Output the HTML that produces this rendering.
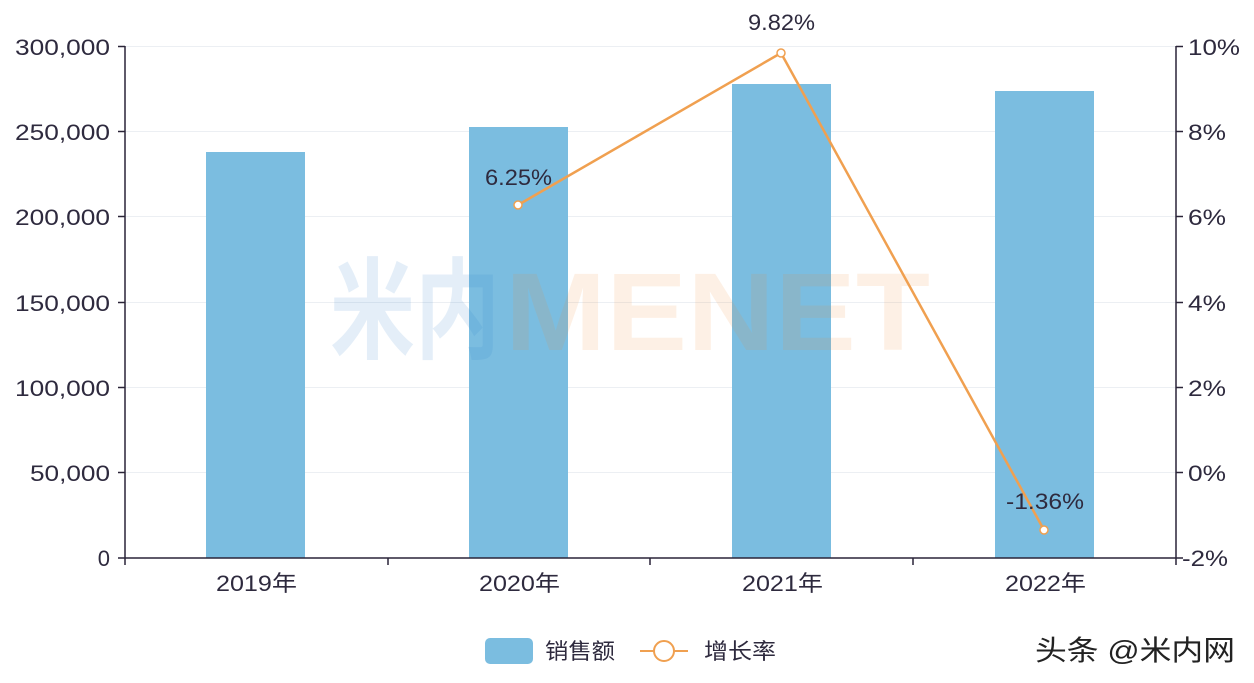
<!DOCTYPE html>
<html><head><meta charset="utf-8"><style>
body{margin:0;background:#fff;width:1254px;height:678px;overflow:hidden}
text{font-family:"Liberation Sans","Noto Sans CJK SC",sans-serif}
</style></head><body>
<svg width="1254" height="678" viewBox="0 0 1254 678" xmlns="http://www.w3.org/2000/svg">
<g stroke="#eceff3" stroke-width="1">
<line x1="125" y1="46.5" x2="1176" y2="46.5"/>
<line x1="125" y1="131.5" x2="1176" y2="131.5"/>
<line x1="125" y1="216.5" x2="1176" y2="216.5"/>
<line x1="125" y1="302.5" x2="1176" y2="302.5"/>
<line x1="125" y1="387.5" x2="1176" y2="387.5"/>
<line x1="125" y1="472.5" x2="1176" y2="472.5"/>
</g>
<g fill="#7bbde0">
<rect x="206" y="152" width="99" height="406"/>
<rect x="469" y="127" width="99" height="431"/>
<rect x="732" y="84" width="99" height="474"/>
<rect x="995" y="91" width="99" height="467"/>
</g>
<g font-size="110" font-weight="bold" opacity="0.12">
<text x="330" y="350" fill="#2a7ec8" font-family="Noto Sans CJK SC,sans-serif" textLength="170" lengthAdjust="spacingAndGlyphs">米内</text>
<text x="505" y="350" fill="#f08a30" textLength="425" lengthAdjust="spacingAndGlyphs">MENET</text>
</g>
<g stroke="#2a2438" stroke-width="1.5" fill="none">
<line x1="125" y1="46" x2="125" y2="565"/>
<line x1="1176" y1="46" x2="1176" y2="558"/>
<line x1="118" y1="558" x2="1176" y2="558"/>
<path d="M118 46.5H125M118 131.5H125M118 216.5H125M118 302.5H125M118 387.5H125M118 472.5H125"/>
<path d="M1176 46.5H1183M1176 131.5H1183M1176 216.5H1183M1176 302.5H1183M1176 387.5H1183M1176 472.5H1183M1176 558H1183"/>
<path d="M388 558V565M650 558V565M913 558V565M1176 558V565"/>
</g>
<g font-size="22" fill="#2e2a3e" text-anchor="end" lengthAdjust="spacingAndGlyphs">
<text x="110" y="55" textLength="95" lengthAdjust="spacingAndGlyphs">300,000</text><text x="110" y="140" textLength="95" lengthAdjust="spacingAndGlyphs">250,000</text>
<text x="110" y="225" textLength="95" lengthAdjust="spacingAndGlyphs">200,000</text><text x="110" y="311" textLength="95" lengthAdjust="spacingAndGlyphs">150,000</text>
<text x="110" y="396" textLength="95" lengthAdjust="spacingAndGlyphs">100,000</text><text x="110" y="481" textLength="80" lengthAdjust="spacingAndGlyphs">50,000</text>
<text x="110" y="566">0</text>
</g>
<g font-size="22" fill="#2e2a3e">
<text x="1188" y="55" textLength="52" lengthAdjust="spacingAndGlyphs">10%</text><text x="1188" y="140" textLength="38" lengthAdjust="spacingAndGlyphs">8%</text>
<text x="1188" y="225" textLength="38" lengthAdjust="spacingAndGlyphs">6%</text><text x="1188" y="311" textLength="38" lengthAdjust="spacingAndGlyphs">4%</text>
<text x="1188" y="396" textLength="38" lengthAdjust="spacingAndGlyphs">2%</text><text x="1188" y="481" textLength="38" lengthAdjust="spacingAndGlyphs">0%</text>
<text x="1182" y="566" textLength="46" lengthAdjust="spacingAndGlyphs">-2%</text>
</g>
<g font-size="22" fill="#2e2a3e">
<text x="216" y="591" textLength="81" lengthAdjust="spacingAndGlyphs">2019年</text><text x="479" y="591" textLength="81" lengthAdjust="spacingAndGlyphs">2020年</text>
<text x="742" y="591" textLength="81" lengthAdjust="spacingAndGlyphs">2021年</text><text x="1005" y="591" textLength="81" lengthAdjust="spacingAndGlyphs">2022年</text>
</g>
<polyline points="518,205 781,53 1044,530" fill="none" stroke="#f0a050" stroke-width="2.5"/>
<g fill="#fff" stroke="#f0a050" stroke-width="1.5">
<circle cx="518" cy="205" r="4"/><circle cx="781" cy="53" r="4"/><circle cx="1044" cy="530" r="4"/>
</g>
<g font-size="22" fill="#2e2a3e">
<text x="485" y="185" textLength="67" lengthAdjust="spacingAndGlyphs">6.25%</text><text x="748" y="30" textLength="67" lengthAdjust="spacingAndGlyphs">9.82%</text><text x="1006" y="509" textLength="78" lengthAdjust="spacingAndGlyphs">-1.36%</text>
</g>
<rect x="485" y="638" width="48" height="26" rx="5" fill="#7bbde0"/>
<text x="545" y="659" font-size="22" fill="#2e2a3e" textLength="70" lengthAdjust="spacingAndGlyphs">销售额</text>
<line x1="640" y1="651" x2="688" y2="651" stroke="#f0a050" stroke-width="2"/>
<circle cx="664" cy="651" r="10" fill="#fff" stroke="#f0a050" stroke-width="2"/>
<text x="704" y="659" font-size="22" fill="#2e2a3e" textLength="72" lengthAdjust="spacingAndGlyphs">增长率</text>
<text x="1035" y="660" font-size="28" fill="#222" textLength="200" lengthAdjust="spacingAndGlyphs">头条 @米内网</text>
</svg>
</body></html>
